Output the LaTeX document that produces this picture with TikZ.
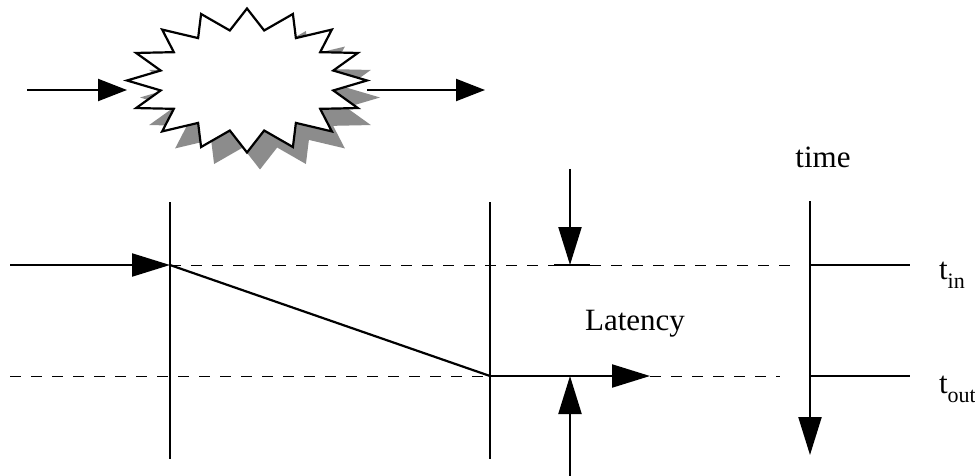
\documentclass[tikz,border=0pt]{standalone}
\usepackage{fontspec}
\setmainfont{Liberation Serif}
\usetikzlibrary{arrows.meta}
\newcommand\lowsub[1]{\raisebox{-4.5pt}{\fontsize{11}{12}\selectfont #1}}

\begin{document}
\begin{tikzpicture}[x=0.5pt,y=-0.5pt,line width=1.1pt,
thinarr/.style={-{Triangle[length=14.5pt,width=11pt]}},
fatarr/.style={-{Triangle[length=19pt,width=11.5pt]}},
guide/.style={line width=.5pt,dash pattern=on 5.5pt off 5pt},
lbl/.style={inner sep=0pt,font=\fontsize{15.5}{18}\selectfont}]
\useasboundingbox (0,0) rectangle (975,476);
% the black box
\coordinate (burst) at (247,80.5);
\begin{scope}[shift={(burst)}]
 \begin{scope}[shift={(13,17)}]
  \fill[black!45] (0:120 and 72) \foreach \k in {0,...,15}{ -- (\k*22.5+11.25:88 and 51) -- (\k*22.5+22.5:120 and 72)} -- cycle;
 \end{scope}
 \draw[fill=white,line join=miter] (0:120 and 72) \foreach \k in {0,...,15}{ -- (\k*22.5+11.25:88 and 51) -- (\k*22.5+22.5:120 and 72)} -- cycle;
\end{scope}
\coordinate (in0) at (27,90);
\coordinate (in1) at (127,90);
\coordinate (out0) at (367,90);
\coordinate (out1) at (485,90);
% timing part
\coordinate (tx-top) at (170,202);
\coordinate (tx-bot) at (170,459);
\coordinate (rx-top) at (490,202);
\coordinate (rx-bot) at (490,459);
\coordinate (tx-in) at (170,265);
\coordinate (rx-out) at (490,376);
\coordinate (src) at (10,265);
\coordinate (dst) at (650,376);
\coordinate (tin-l) at (10,376);
\coordinate (tin-r) at (790,265);
\coordinate (tout-r) at (780,376);
\coordinate (tick-l) at (554,265);
\coordinate (tick-r) at (590,265);
\coordinate (lat-top) at (570,169);
\coordinate (lat-in) at (570,265);
\coordinate (lat-out) at (570,376);
\coordinate (lat-bot) at (570,476);
\coordinate (axis-top) at (810,201);
\coordinate (axis-bot) at (810,455);
\coordinate (tin-ax) at (810,265);
\coordinate (tin-end) at (910,265);
\coordinate (tout-ax) at (810,376);
\coordinate (tout-end) at (910,376);
\draw[guide] (tx-in)--(tin-r);
\draw[guide] (tin-l)--(rx-out);
\draw[guide] (dst)--(tout-r);
\draw (tx-top)--(tx-bot);
\draw (rx-top)--(rx-bot);
\draw (tx-in)--(rx-out);
\draw (tick-l)--(tick-r);
\draw (tin-ax)--(tin-end);
\draw (tout-ax)--(tout-end);
\draw[thinarr] (in0)--(in1);
\draw[thinarr] (out0)--(out1);
\begin{scope}[fatarr]
 \draw (src)--(tx-in);
 \draw (rx-out)--(dst);
 \draw (lat-top)--(lat-in);
 \draw (lat-bot)--(lat-out);
 \draw (axis-top)--(axis-bot);
\end{scope}
\node[lbl,anchor=base] (time) at (823,168) {time};
\node[lbl,anchor=base west] (latency) at (584,330) {Latency};
\node[lbl,anchor=base west] (tin) at (938,279) {t\lowsub{in}};
\node[lbl,anchor=base west] (tout) at (938,393) {t\lowsub{out}};
\end{tikzpicture}
\end{document}
